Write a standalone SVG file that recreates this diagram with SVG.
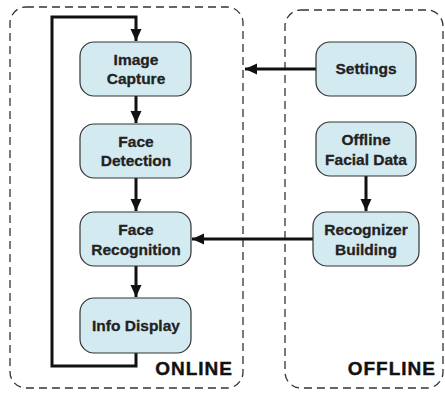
<svg xmlns="http://www.w3.org/2000/svg" width="445" height="393" viewBox="0 0 445 393">
<defs>
<marker id="ah" markerWidth="12" markerHeight="12" viewBox="0 0 12 12" refX="12" refY="6" orient="auto" markerUnits="userSpaceOnUse">
<path d="M0,0.5 L12,6 L0,11.5 Z" fill="#111"/>
</marker>
<style>
.box{fill:#d4eaf1;stroke:#333;stroke-width:1.2}
.cont{fill:none;stroke:#333;stroke-width:1.3;stroke-dasharray:8,5}
.t{font-family:"Liberation Sans",Arial,sans-serif;font-weight:bold;font-size:15.5px;fill:#222;stroke:#222;stroke-width:0.3;text-anchor:middle}
.lbl{font-family:"Liberation Sans",Arial,sans-serif;font-weight:bold;font-size:19px;fill:#111;stroke:#111;stroke-width:0.4;text-anchor:end;letter-spacing:1px}
.c{fill:none;stroke:#111;stroke-width:3}
</style>
</defs>
<rect width="445" height="393" fill="#fff"/>
<g id="online">
<rect class="cont" x="10" y="7" width="233" height="381" rx="16"/>
<text class="lbl" x="233" y="375">ONLINE</text>
</g>
<g id="offline">
<rect class="cont" x="285" y="10" width="158" height="378" rx="16"/>
<text class="lbl" x="436" y="375">OFFLINE</text>
</g>
<g id="connectors">
<path class="c" d="M136,353 V366 H52 V17 H136 V41" marker-end="url(#ah)"/>
<path class="c" d="M136,96 V123" marker-end="url(#ah)"/>
<path class="c" d="M136,178 V211" marker-end="url(#ah)"/>
<path class="c" d="M136,266 V297" marker-end="url(#ah)"/>
<path class="c" d="M316,69 H245" marker-end="url(#ah)"/>
<path class="c" d="M366,176 V211" marker-end="url(#ah)"/>
<path class="c" d="M313,239 H192" marker-end="url(#ah)"/>
</g>
<g id="image-capture">
<rect class="box" x="80" y="42" width="111" height="54" rx="14"/>
<text class="t" x="136" y="65">Image</text>
<text class="t" x="136" y="84">Capture</text>
</g>
<g id="face-detection">
<rect class="box" x="80" y="124" width="111" height="54" rx="14"/>
<text class="t" x="136" y="147">Face</text>
<text class="t" x="136" y="166">Detection</text>
</g>
<g id="face-recognition">
<rect class="box" x="80" y="212" width="111" height="54" rx="14"/>
<text class="t" x="136" y="235">Face</text>
<text class="t" x="136" y="255">Recognition</text>
</g>
<g id="info-display">
<rect class="box" x="80" y="298" width="111" height="55" rx="14"/>
<text class="t" x="136" y="331">Info Display</text>
</g>
<g id="settings">
<rect class="box" x="316" y="42" width="100" height="54" rx="14"/>
<text class="t" x="366" y="74">Settings</text>
</g>
<g id="offline-facial-data">
<rect class="box" x="316" y="122" width="100" height="54" rx="14"/>
<text class="t" x="366" y="145">Offline</text>
<text class="t" x="366" y="165">Facial Data</text>
</g>
<g id="recognizer-building">
<rect class="box" x="313" y="212" width="106" height="54" rx="14"/>
<text class="t" x="366" y="235">Recognizer</text>
<text class="t" x="366" y="255">Building</text>
</g>
</svg>
